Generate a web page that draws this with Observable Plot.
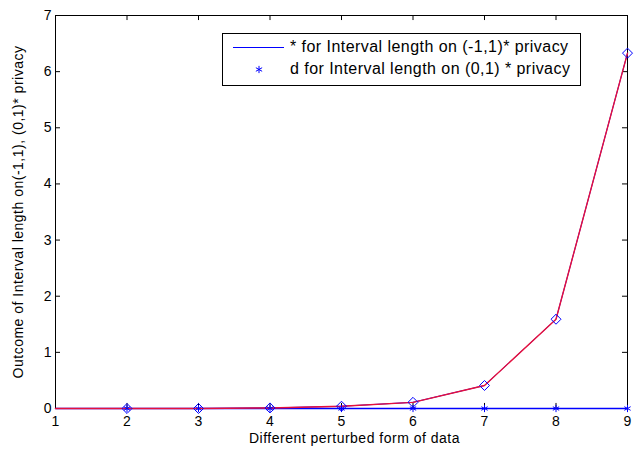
<!DOCTYPE html>
<html>
<head>
<meta charset="utf-8">
<script src="https://cdn.jsdelivr.net/npm/d3@7"></script>
<script src="https://cdn.jsdelivr.net/npm/@observablehq/plot@0.6"></script>
<style>
  body { margin: 0; background: #fff; }
  #wrap { position: relative; width: 638px; height: 450px; font-family: "Liberation Sans", Arial, sans-serif; }
  #wrap svg text { font-size: 14px; }
  #wrap svg g[aria-label="x-axis label"] text, #wrap svg g[aria-label="y-axis label"] text { letter-spacing: 0.5px; }
  #legend { position: absolute; left: 222px; top: 33px; width: 359px; height: 53px; border: 1px solid #000; background: #fff; box-sizing: border-box; font-size: 16px; color: #000; letter-spacing: 0.45px; }
  #legend .row { position: absolute; left: 0; height: 20px; line-height: 20px; white-space: nowrap; }
  #legend .txt { position: absolute; left: 67px; }
</style>
</head>
<body>
<div id="wrap"></div>
<script>
const xCats = [1, 2, 3, 4, 5, 6, 7, 8, 9];
const seriesA = [0, 0, 0, 0.01, 0.04, 0.11, 0.41, 1.59, 6.33];   // (-1,1) interval length
const seriesB = [0, 0, 0, 0, 0, 0, 0, 0, 0];                     // (0,1) interval length
const markerX = [2, 3, 4, 5, 6, 7, 8, 9];
const xTicks = [1, 2, 3, 4, 5, 6, 7, 8, 9];
const yTicks = [0, 1, 2, 3, 4, 5, 6, 7];
const legendLabels = ["* for Interval length on (-1,1)* privacy", "d for Interval length on (0,1) * privacy"];
const xLabel = "Different perturbed form of data";
const yLabel = "Outcome of Interval length on(-1,1), (0,1)* privacy";

const dataA = xCats.map((x, i) => ({x, y: seriesA[i]}));
const dataB = xCats.map((x, i) => ({x, y: seriesB[i]}));
const markA = dataA.filter(d => markerX.includes(d.x));
const markB = dataB.filter(d => markerX.includes(d.x));

const tx = 0.07, ty = 0.09;
const plot = Plot.plot({
  width: 638,
  height: 450,
  marginLeft: 55,
  marginRight: 11,
  marginTop: 15,
  marginBottom: 42,
  style: {fontFamily: "Liberation Sans, Arial, sans-serif", fontSize: "14px", color: "#000", background: "#fff"},
  x: {domain: [1, 9]},
  y: {domain: [0, 7]},
  marks: [
    Plot.frame({stroke: "#000", strokeWidth: 1}),
    Plot.ruleX(xTicks, {x: d => d, y1: 0, y2: ty, stroke: "#000"}),
    Plot.ruleX(xTicks, {x: d => d, y1: 7, y2: 7 - ty, stroke: "#000"}),
    Plot.ruleY(yTicks, {y: d => d, x1: 1, x2: 1 + tx, stroke: "#000"}),
    Plot.ruleY(yTicks, {y: d => d, x1: 9, x2: 9 - tx, stroke: "#000"}),
    Plot.axisX(xTicks, {tickSize: 0, tickPadding: 8, tickFormat: d => String(d), label: xLabel, labelAnchor: "center", labelArrow: "none", labelOffset: 34, fontSize: 14}),
    Plot.axisY(yTicks, {tickSize: 0, tickPadding: 4, tickFormat: d => String(d), label: yLabel, labelAnchor: "center", labelArrow: "none", labelOffset: 42, fontSize: 14}),
    Plot.line(dataB, {x: "x", y: "y", stroke: "#0000ff", strokeWidth: 1.4}),
    Plot.line(dataA, {x: "x", y: "y", stroke: "#0000ff", strokeWidth: 1}),
    Plot.line(dataA, {x: "x", y: "y", stroke: "#e6103c", strokeWidth: 1.4}),
    Plot.dot(markB, {x: "x", y: "y", symbol: "asterisk", r: 3.4, stroke: "#0000ff", strokeWidth: 1}),
    Plot.dot(markA, {x: "x", y: "y", symbol: "diamond2", r: 4.5, stroke: "#0000ff", fill: "none", strokeWidth: 1})
  ]
});
const wrap = document.getElementById("wrap");
wrap.appendChild(plot);
// nudge the x-axis label to the right, as in the reference
d3.select(plot).selectAll('g[aria-label="x-axis label"]').each(function() {
  const t = this.getAttribute("transform") || "";
  this.setAttribute("transform", (t + " translate(13,0)").trim());
});

const legend = document.createElement("div");
legend.id = "legend";
const lsvg = d3.create("svg").attr("width", 64).attr("height", 50).style("position", "absolute").style("left", "0px").style("top", "0px");
lsvg.append("line").attr("x1", 10).attr("x2", 61).attr("y1", 13.5).attr("y2", 13.5).attr("stroke", "#0000ff").attr("stroke-width", 1);
const star = d3.symbol(d3.symbolAsterisk, Math.PI * 3.4 * 3.4)();
lsvg.append("path").attr("d", star).attr("transform", "translate(36,35.5)").attr("stroke", "#0000ff").attr("fill", "none");
legend.appendChild(lsvg.node());
legendLabels.forEach((t, i) => {
  const row = document.createElement("div");
  row.className = "row";
  row.style.top = (i === 0 ? 3 : 25) + "px";
  const s = document.createElement("span");
  s.className = "txt";
  s.textContent = t;
  row.appendChild(s);
  legend.appendChild(row);
});
wrap.appendChild(legend);
</script>
</body>
</html>
